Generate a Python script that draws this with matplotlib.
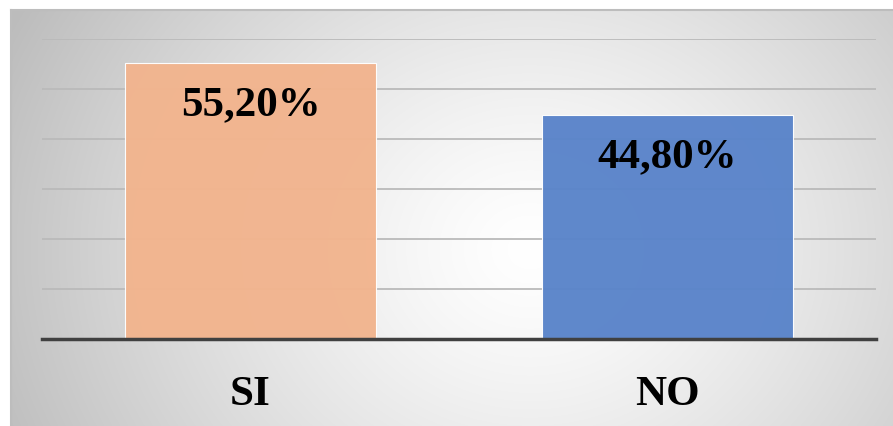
import numpy as np
import matplotlib
matplotlib.use("Agg")
import matplotlib.pyplot as plt

# ── Data ───────────────────────────────────────────────────────────────────
categories = ["SI", "NO"]
values = [55.20, 44.80]
value_labels = ["55,20%", "44,80%"]
bar_colors = ["#F2B48E", "#5A84CA"]

W, H = 893, 427
fig = plt.figure(figsize=(W / 100, H / 100), dpi=100)
fig.patch.set_facecolor("white")

# ── Radial gradient panel ──────────────────────────────────────────────────
x0, y0 = 11, 11
bg = fig.add_axes([x0 / W, 0, 1 - x0 / W, 1 - y0 / H])
gx, gy = np.meshgrid(np.arange(x0, W), np.arange(y0, H))
dist = np.hypot(gx - 530, (gy - 250) * 1.15) / 560
shade = np.clip(1.0 - 0.25 * dist ** 1.3, 0.74, 1.0)
bg.imshow(np.dstack([shade] * 3), aspect="auto", interpolation="bilinear")
bg.set_axis_off()
fig.add_artist(plt.Line2D([x0 / W, 1], [1 - y0 / H] * 2, color="#bdbdbd", lw=1.5))
fig.add_artist(plt.Line2D([x0 / W] * 2, [0, 1 - y0 / H], color="#bdbdbd", lw=1.5))

# ── Bars ───────────────────────────────────────────────────────────────────
ax = fig.add_axes([42 / W, 1 - 340 / H, (876 - 42) / W, 300 / H])
ax.patch.set_alpha(0)
x = np.arange(len(categories))
bars = ax.bar(x, values, width=0.604, color=bar_colors, edgecolor="white",
              linewidth=0.8, alpha=0.97, zorder=3)

for b, lab in zip(bars, value_labels):
    ax.annotate(lab, (b.get_x() + b.get_width() / 2, b.get_height()),
                xytext=(0, -30), textcoords="offset points",
                ha="center", va="center", fontsize=31, fontweight="bold",
                family="Liberation Serif", zorder=5)

ax.set_xlim(-0.5, 1.5)
ax.set_ylim(0, 60)
ax.set_yticks(np.arange(0, 61, 10))
ax.yaxis.grid(True, color="#bababa", linewidth=1.3, zorder=0)
ax.set_axisbelow(True)
ax.tick_params(axis="y", left=False, labelleft=False)
ax.tick_params(axis="x", length=0, pad=26)
ax.set_xticks(x)
ax.set_xticklabels(categories, fontsize=31, fontweight="bold",
                   family="Liberation Serif")
for s in ["top", "left", "right"]:
    ax.spines[s].set_visible(False)
ax.spines["bottom"].set_color("#404040")
ax.spines["bottom"].set_linewidth(2.5)
ax.spines["bottom"].set_zorder(4)

fig.savefig("out.png", dpi=100)
